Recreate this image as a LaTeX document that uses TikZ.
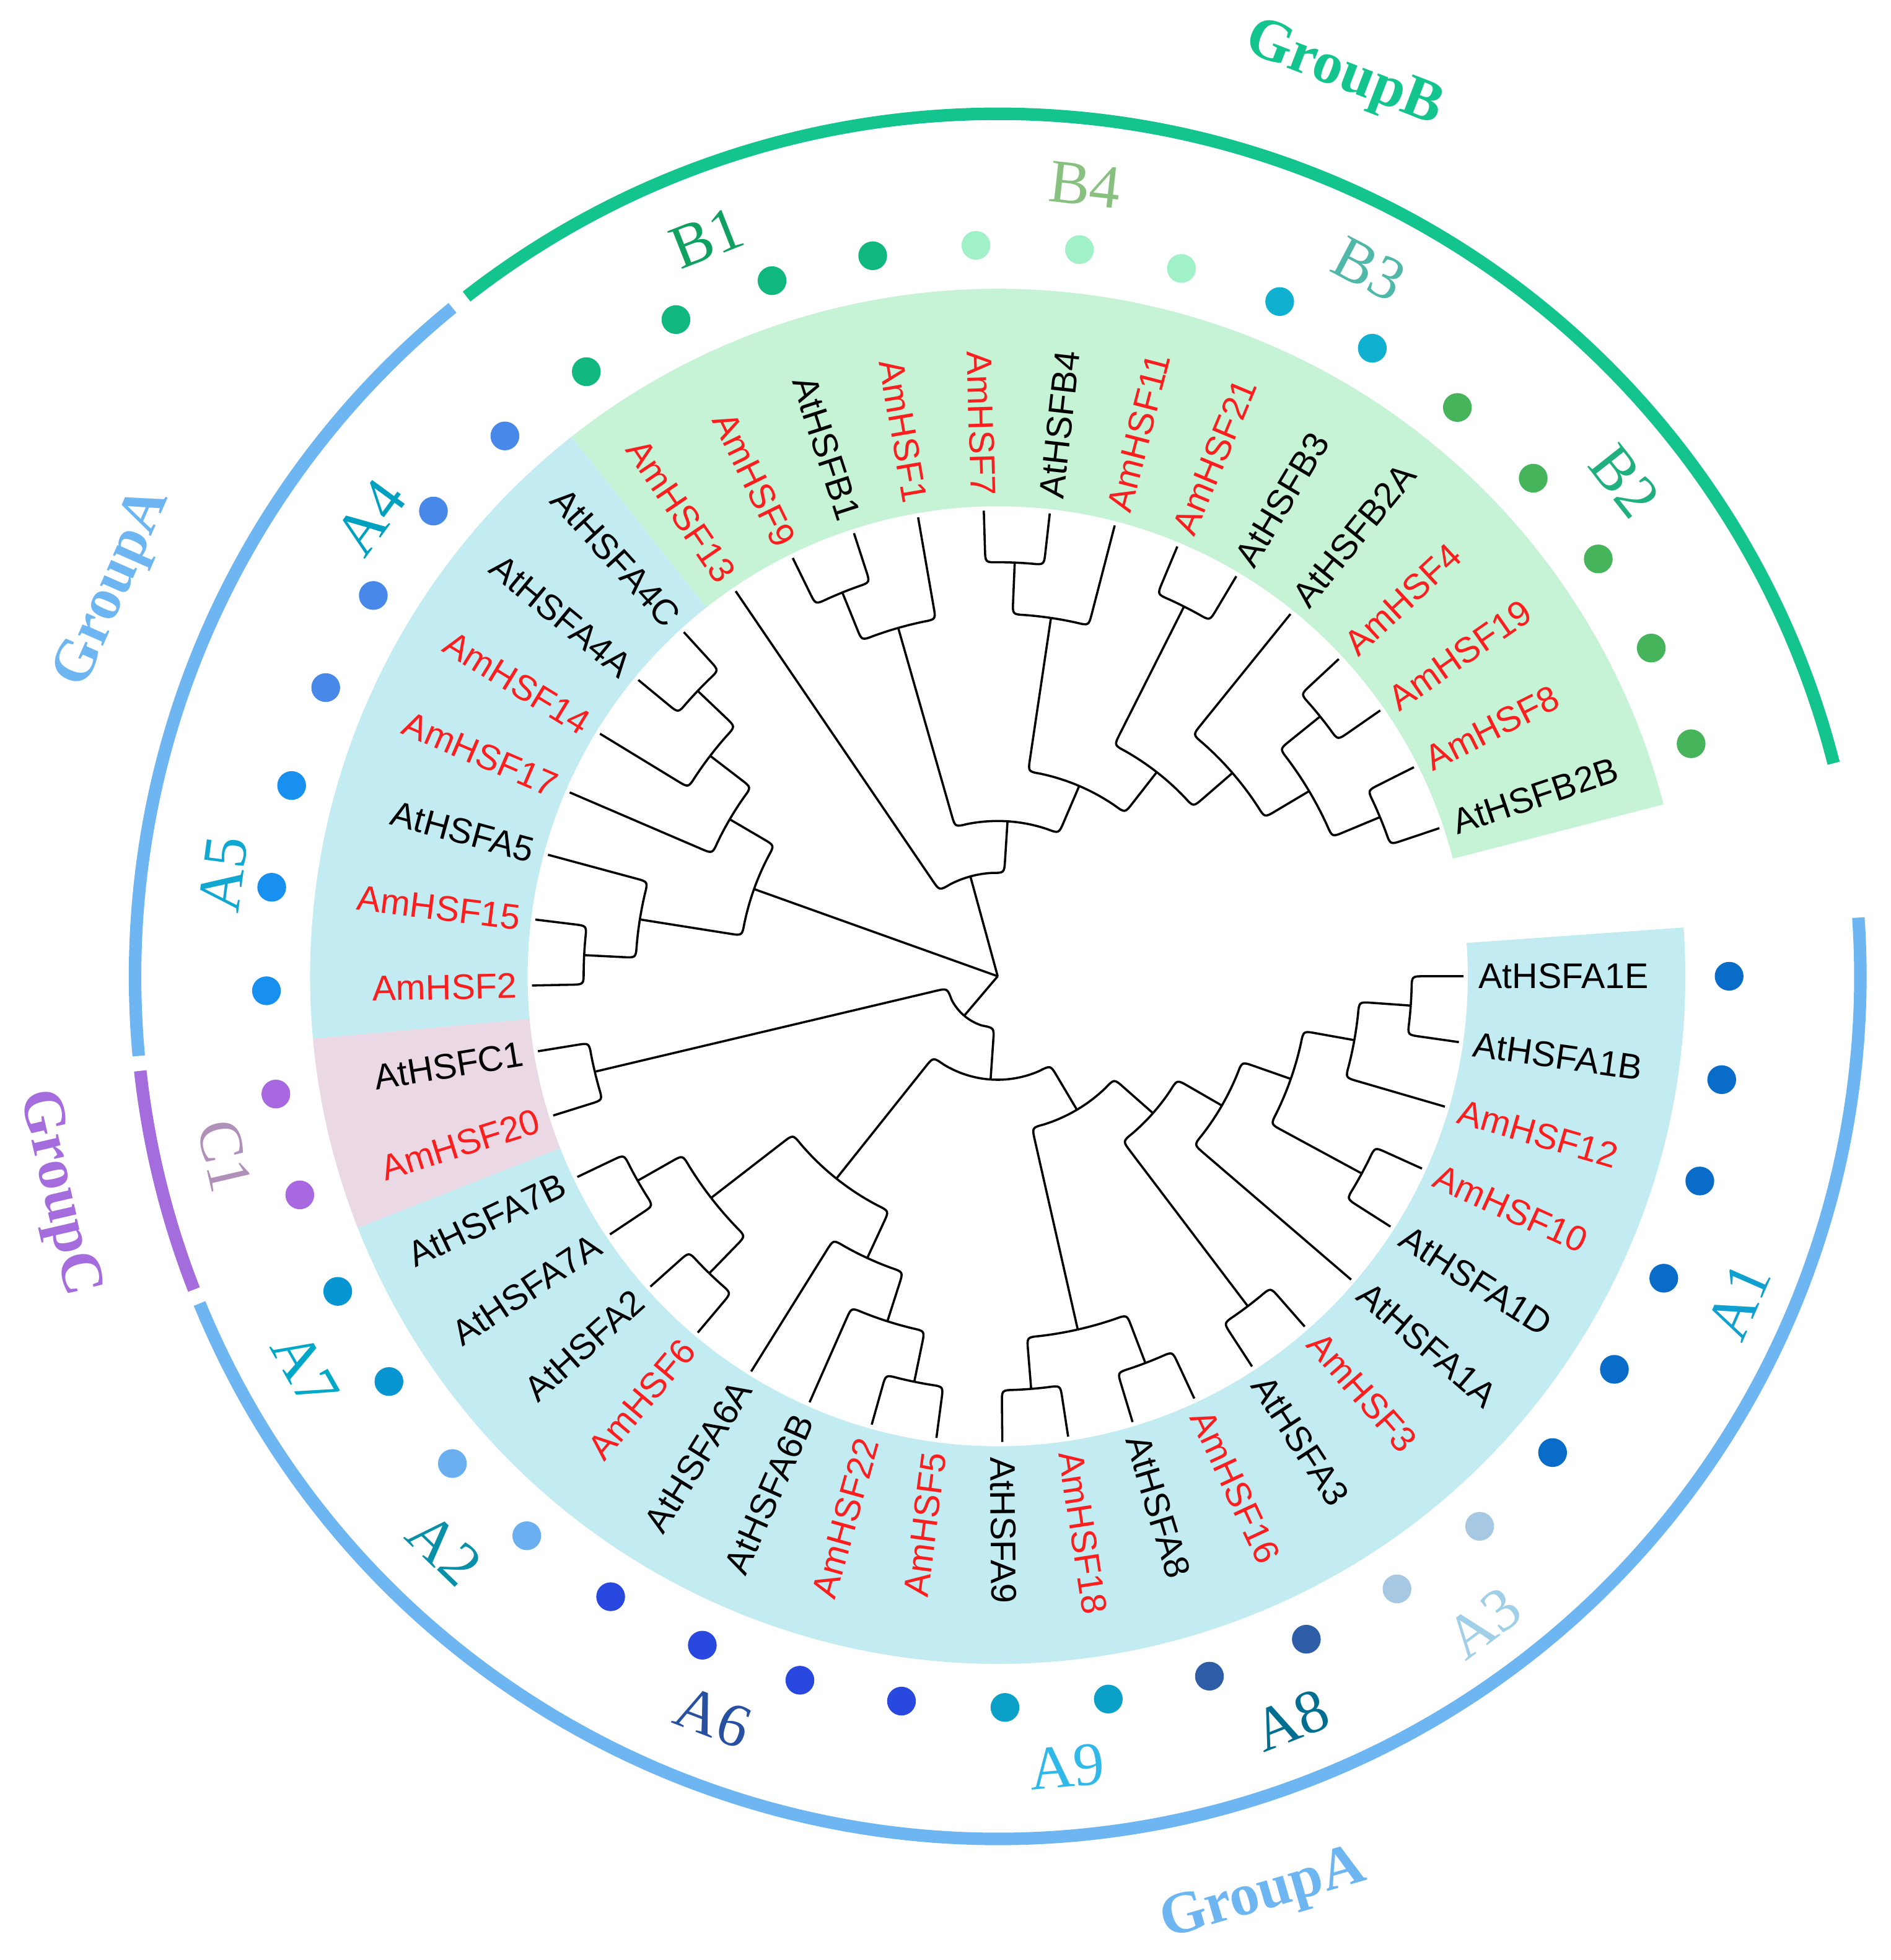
\documentclass[tikz,border=0pt]{standalone}
\usepackage{fontspec}
\setmainfont{Liberation Serif}
\newfontfamily\lsans{Liberation Sans}
\definecolor{amred}{RGB}{250,30,30}
\definecolor{bandA}{RGB}{194,236,242}
\definecolor{bandB}{RGB}{198,242,214}
\definecolor{bandC}{RGB}{234,216,228}
\definecolor{dA1}{RGB}{8,108,200}
\definecolor{dA3}{RGB}{166,200,226}
\definecolor{dA8}{RGB}{46,94,168}
\definecolor{dA9}{RGB}{10,160,200}
\definecolor{dA6}{RGB}{40,72,224}
\definecolor{dA2}{RGB}{106,176,240}
\definecolor{dA7}{RGB}{8,150,210}
\definecolor{dC1}{RGB}{168,104,224}
\definecolor{dA5}{RGB}{24,144,240}
\definecolor{dA4}{RGB}{72,136,232}
\definecolor{dB1}{RGB}{16,184,128}
\definecolor{dB4}{RGB}{160,240,200}
\definecolor{dB3}{RGB}{16,176,208}
\definecolor{dB2}{RGB}{70,180,90}
\definecolor{lA1}{RGB}{16,160,208}
\definecolor{lA3}{RGB}{160,208,232}
\definecolor{lA8}{RGB}{0,110,144}
\definecolor{lA9}{RGB}{48,184,232}
\definecolor{lA6}{RGB}{40,80,160}
\definecolor{lA2}{RGB}{8,144,168}
\definecolor{lA7}{RGB}{0,168,200}
\definecolor{lC1}{RGB}{176,144,184}
\definecolor{lA5}{RGB}{16,168,208}
\definecolor{lA4}{RGB}{0,160,192}
\definecolor{lB1}{RGB}{16,160,96}
\definecolor{lB4}{RGB}{136,192,128}
\definecolor{lB3}{RGB}{80,184,168}
\definecolor{lB2}{RGB}{32,176,128}
\definecolor{gB}{RGB}{20,196,142}
\definecolor{gA}{RGB}{110,182,242}
\definecolor{gC}{RGB}{164,108,220}
\def\crad{0.1}
\newcommand\nd[3]{\coordinate (#1) at (#2:#3);%
  \expandafter\xdef\csname tA#1\endcsname{#2}%
  \expandafter\xdef\csname tR#1\endcsname{#3}}
\newcommand\tb[2]{%
  \edef\tbpa{\csname tA#1\endcsname}%
  \edef\tbpr{\csname tR#1\endcsname}%
  \edef\tbca{\csname tA#2\endcsname}%
  \pgfmathsetmacro\tbe{\tbca + ifthenelse(\tbca>\tbpa,-1,1)*\crad*57.29578/\tbpr}%
  \pgfmathsetmacro\tbr{\tbpr+\crad}%
  \draw[tree] (#1) arc[start angle=\tbpa, end angle=\tbe, radius=\tbpr] .. controls (\tbca:\tbpr) .. (\tbca:\tbr) -- (#2);}
\tikzset{
  tree/.style={line width=0.5pt, draw=black},
  leaf/.style={font=\lsans\fontsize{8.1}{9}\selectfont, inner sep=0pt},
  dot/.style={circle, minimum size=0.23cm, inner sep=0pt, draw=none},
  clade/.style={font=\fontsize{14}{16}\selectfont, inner sep=0pt},
  grp/.style={font=\bfseries\fontsize{13.5}{16}\selectfont, inner sep=0pt},
  garc/.style={line width=0.1cm}
}
\begin{document}
\begin{tikzpicture}
\useasboundingbox[fill=white] (-7.98,-7.87) rectangle (7.14,7.81);
% background bands
\fill[bandA] (4.065:3.76) arc[start angle=4.065, end angle=-158.535, radius=3.76] -- (-158.535:5.5) arc[start angle=-158.535, end angle=4.065, radius=5.5] -- cycle;
\fill[bandC] (-158.535:3.76) arc[start angle=-158.535, end angle=-174.795, radius=3.76] -- (-174.795:5.5) arc[start angle=-174.795, end angle=-158.535, radius=5.5] -- cycle;
\fill[bandA] (-174.795:3.76) arc[start angle=-174.795, end angle=-231.705, radius=3.76] -- (-231.705:5.5) arc[start angle=-231.705, end angle=-174.795, radius=5.5] -- cycle;
\fill[bandB] (-231.705:3.76) arc[start angle=-231.705, end angle=-345.525, radius=3.76] -- (-345.525:5.5) arc[start angle=-345.525, end angle=-231.705, radius=5.5] -- cycle;
% leaves, labels and dots
\foreach \i/\nm/\tc/\dc in {0/AtHSFA1E/black/dA1, 1/AtHSFA1B/black/dA1, 2/AmHSF12/amred/dA1, 3/AmHSF10/amred/dA1, 4/AtHSFA1D/black/dA1, 5/AtHSFA1A/black/dA1, 6/AmHSF3/amred/dA3, 7/AtHSFA3/black/dA3, 8/AmHSF16/amred/dA8, 9/AtHSFA8/black/dA8, 10/AmHSF18/amred/dA9, 11/AtHSFA9/black/dA9, 12/AmHSF5/amred/dA6, 13/AmHSF22/amred/dA6, 14/AtHSFA6B/black/dA6, 15/AtHSFA6A/black/dA6, 16/AmHSF6/amred/dA2, 17/AtHSFA2/black/dA2, 18/AtHSFA7A/black/dA7, 19/AtHSFA7B/black/dA7, 20/AmHSF20/amred/dC1, 21/AtHSFC1/black/dC1, 22/AmHSF2/amred/dA5, 23/AmHSF15/amred/dA5, 24/AtHSFA5/black/dA5, 25/AmHSF17/amred/dA4, 26/AmHSF14/amred/dA4, 27/AtHSFA4A/black/dA4, 28/AtHSFA4C/black/dA4, 29/AmHSF13/amred/dB1, 30/AmHSF9/amred/dB1, 31/AtHSFB1/black/dB1, 32/AmHSF1/amred/dB1, 33/AmHSF7/amred/dB4, 34/AtHSFB4/black/dB4, 35/AmHSF11/amred/dB4, 36/AmHSF21/amred/dB3, 37/AtHSFB3/black/dB3, 38/AtHSFB2A/black/dB2, 39/AmHSF4/amred/dB2, 40/AmHSF19/amred/dB2, 41/AmHSF8/amred/dB2, 42/AtHSFB2B/black/dB2}{
  \pgfmathsetmacro\leafang{-8.13*\i}
  \pgfmathtruncatemacro\rightside{ifthenelse(or(\leafang>-90,\leafang<-270),1,0)}
  \nd{t\i}{\leafang}{3.726}
  \ifnum\rightside=1
    \node[leaf,text=\tc,rotate=\leafang,anchor=west] (l\i) at (\leafang:3.84) {\nm};
  \else
    \pgfmathsetmacro\rang{\leafang+180}
    \node[leaf,text=\tc,rotate=\rang,anchor=east] (l\i) at (\leafang:3.84) {\nm};
  \fi
  \node[dot,fill=\dc] (d\i) at (\leafang:5.85) {};
}
% internal nodes
\coordinate (root) at (0,0);
\nd{c01}{-4.065}{3.312}
\nd{c34}{-28.455}{3.312}
\nd{c67}{-52.845}{3.312}
\nd{c89}{-69.105}{3.312}
\nd{c1011}{-85.365}{3.312}
\nd{c1213}{-101.625}{3.312}
\nd{c1617}{-134.145}{3.312}
\nd{c1819}{-150.405}{3.312}
\nd{c2021}{-166.665}{3.312}
\nd{c2223}{-182.925}{3.312}
\nd{c2728}{-223.575}{3.312}
\nd{c3031}{-247.965}{3.312}
\nd{c3334}{-272.355}{3.312}
\nd{c3637}{-296.745}{3.312}
\nd{c3940}{-321.135}{3.312}
\nd{c4142}{-337.395}{3.312}
\nd{n2}{-10.1625}{2.898}
\nd{n89}{-77.235}{2.898}
\nd{n10}{-107.7225}{2.898}
\nd{n72}{-142.275}{2.898}
\nd{nA5}{-189.0225}{2.898}
\nd{n41}{-217.4775}{2.898}
\nd{nZ}{-254.0625}{2.898}
\nd{nP}{-278.4525}{2.898}
\nd{nT}{-329.265}{2.898}
\nd{n3}{-19.30875}{2.484}
\nd{n9}{-114.836}{2.484}
\nd{n42}{-210.364}{2.484}
\nd{nS}{-319.1025}{2.484}
\nd{n4}{-29.979}{2.07}
\nd{n8}{-128.556}{2.07}
\nd{nA45}{-199.693}{2.07}
\nd{nR}{-307.924}{2.07}
\nd{n5}{-41.412}{1.656}
\nd{nQ}{-293.188}{1.656}
\nd{n6}{-59.3235}{1.242}
\nd{nY}{-273.625}{1.242}
\nd{n7}{-93.94}{0.828}
\nd{nB}{-254.70}{0.828}
\nd{nAC}{-130.30}{0.414}
% branches
\tb{c01}{t0}\tb{c01}{t1}
\tb{c34}{t3}\tb{c34}{t4}
\tb{c67}{t6}\tb{c67}{t7}
\tb{c89}{t8}\tb{c89}{t9}
\tb{c1011}{t10}\tb{c1011}{t11}
\tb{c1213}{t12}\tb{c1213}{t13}
\tb{c1617}{t16}\tb{c1617}{t17}
\tb{c1819}{t18}\tb{c1819}{t19}
\tb{c2021}{t20}\tb{c2021}{t21}
\tb{c2223}{t22}\tb{c2223}{t23}
\tb{c2728}{t27}\tb{c2728}{t28}
\tb{c3031}{t30}\tb{c3031}{t31}
\tb{c3334}{t33}\tb{c3334}{t34}
\tb{c3637}{t36}\tb{c3637}{t37}
\tb{c3940}{t39}\tb{c3940}{t40}
\tb{c4142}{t41}\tb{c4142}{t42}
\tb{n2}{c01}\tb{n2}{t2}
\tb{n89}{c89}\tb{n89}{c1011}
\tb{n10}{t14}\tb{n10}{c1213}
\tb{n72}{c1617}\tb{n72}{c1819}
\tb{nA5}{c2223}\tb{nA5}{t24}
\tb{n41}{c2728}\tb{n41}{t26}
\tb{nZ}{c3031}\tb{nZ}{t32}
\tb{nP}{c3334}\tb{nP}{t35}
\tb{nT}{c3940}\tb{nT}{c4142}
\tb{n3}{n2}\tb{n3}{c34}
\tb{n9}{t15}\tb{n9}{n10}
\tb{n42}{n41}\tb{n42}{t25}
\tb{nS}{t38}\tb{nS}{nT}
\tb{n4}{n3}\tb{n4}{t5}
\tb{n8}{n9}\tb{n8}{n72}
\tb{nA45}{nA5}\tb{nA45}{n42}
\tb{nR}{c3637}\tb{nR}{nS}
\tb{n5}{n4}\tb{n5}{c67}
\tb{nQ}{nP}\tb{nQ}{nR}
\tb{n6}{n5}\tb{n6}{n89}
\tb{nY}{nZ}\tb{nY}{nQ}
\tb{n7}{n6}\tb{n7}{n8}
\tb{nB}{t29}\tb{nB}{nY}
\tb{nAC}{n7}\tb{nAC}{c2021}
\draw[tree] (root) -- (nB);
\draw[tree] (root) -- (nA45);
\draw[tree] (root) -- (nAC);
% clade labels
\foreach \qt/\qa/\qr/\qc in {A1/-23.7/6.47/lA1, A3/-53.1/6.47/lA3, A8/-68.5/6.4/lA8, A9/-85/6.35/lA9, A6/-111/6.35/lA6, A2/-134/6.37/lA2, A7/-150.4/6.37/lA7, C1/-166.9/6.35/lC1, A5/-187.5/6.25/lA5, A4/-216.2/6.22/lA4, B1/-248.5/6.35/lB1, B4/-276.3/6.37/lB4, B3/-297.7/6.39/lB3, B2/-321.7/6.39/lB2}{
  \pgfmathsetmacro\crot{ifthenelse(\qa>-180,\qa+90,\qa+270)}
  \node[clade,text=\qc,rotate=\crot] (cl\qt) at (\qa:\qr) {\qt};
}
% group arcs
\draw[garc,gB] (14.3:6.9) arc[start angle=14.3, end angle=128, radius=6.9];
\draw[garc,gA] (129.2:6.9) arc[start angle=129.2, end angle=185.3, radius=6.9];
\draw[garc,gC] (186.3:6.9) arc[start angle=186.3, end angle=201.3, radius=6.9];
\draw[garc,gA] (202.3:6.9) arc[start angle=202.3, end angle=363.9, radius=6.9];
% group labels
\node[grp,text=gB,rotate=-21] (gpB) at (69:7.72) {GroupB};
\node[grp,text=gA,rotate=66.3] (gpA1) at (156.3:7.72) {GroupA};
\node[grp,text=gC,rotate=-77] (gpC) at (193:7.72) {GroupC};
\node[grp,text=gA,rotate=16.1] (gpA2) at (-73.9:7.66) {GroupA};
\end{tikzpicture}
\end{document}
